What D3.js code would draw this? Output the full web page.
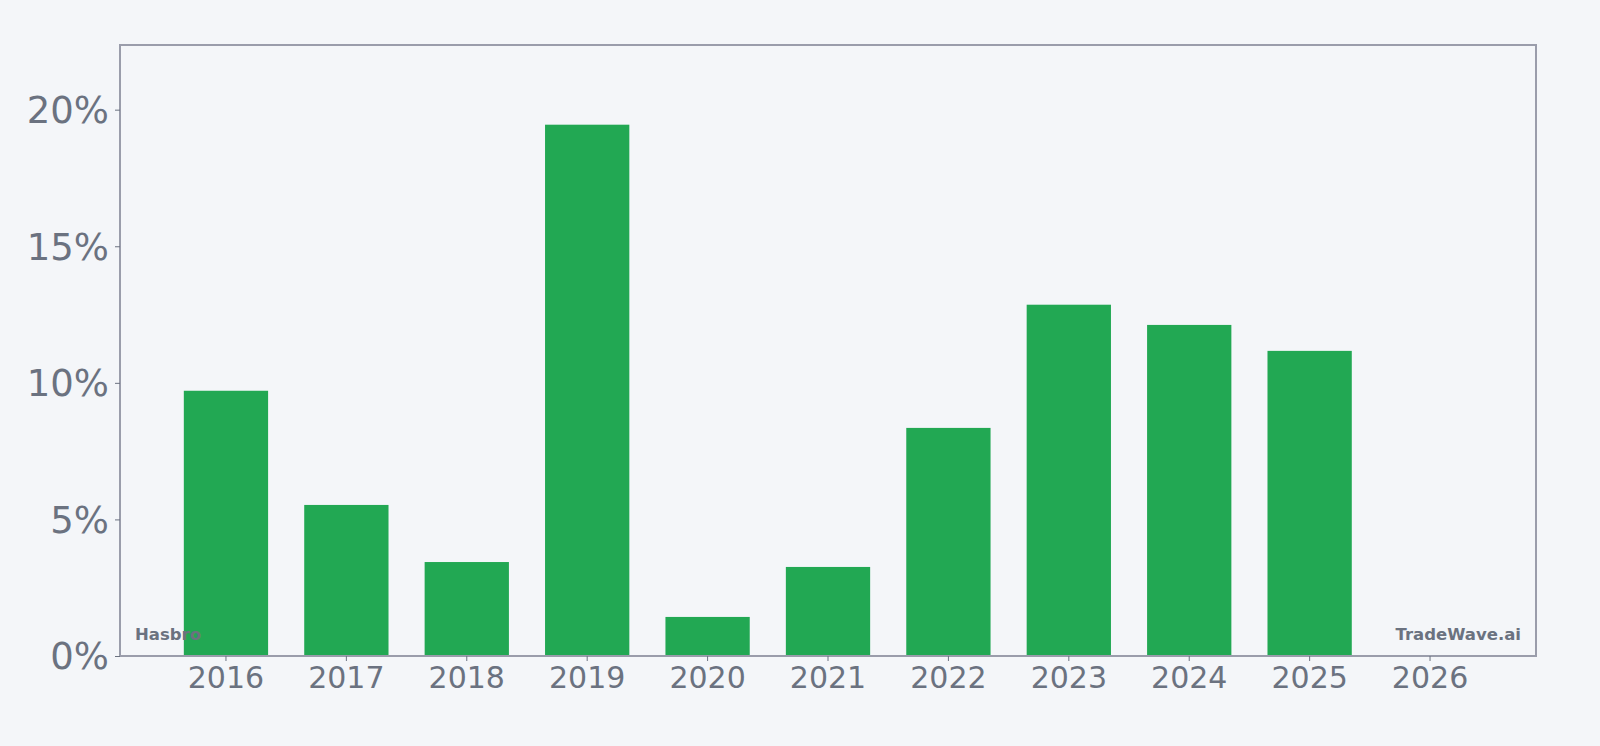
<!DOCTYPE html>
<html>
<head>
<meta charset="utf-8">
<script src="https://cdn.jsdelivr.net/npm/d3@7"></script>
<style>
	body {margin: 0; background: #f4f6f9;}
	svg text {font-family: "DejaVu Sans", sans-serif;}
</style>
</head>
<body>
<div id="chart"></div>
<script>
// yearly values, percent
var years = ["2016", "2017", "2018", "2019", "2020", "2021", "2022", "2023", "2024", "2025", "2026"];
var values = [9.71, 5.53, 3.44, 19.45, 1.43, 3.26, 8.35, 12.86, 12.12, 11.17, null];
var yTicks = [0, 5, 10, 15, 20];
var leftLabel = "Hasbro";
var rightLabel = "TradeWave.ai";

var width = 1600, height = 746;
var margin = {top: 45, right: 64, bottom: 90, left: 120};
var iw = width - margin.left - margin.right, ih = height - margin.top - margin.bottom;
var textCol = "#6b7280", lineCol = "#9a9dab", barCol = "#22a853";

var svg = d3.select("#chart").append("svg")
	.attr("width", width)
	.attr("height", height);

svg.append("rect")
	.attr("width", width)
	.attr("height", height)
	.attr("fill", "#f4f6f9");

var g = svg.append("g")
	.attr("transform", "translate(" + margin.left + "," + margin.top + ")");

var x = d3.scaleBand()
	.domain(years)
	.range([0, iw])
	.paddingInner(0.3)
	.paddingOuter(0.53);

var y = d3.scaleLinear()
	.domain([0, d3.max(values) * 1.15])
	.range([ih, 0]);

g.selectAll("rect.bar")
	.data(years.map(function(d, i){return {year: d, v: values[i]};}).filter(function(d){return d.v != null;}))
	.enter().append("rect")
	.attr("class", "bar")
	.attr("x", function(d){return x(d.year)})
	.attr("y", function(d){return y(d.v)})
	.attr("width", x.bandwidth())
	.attr("height", function(d){return ih - y(d.v)})
	.attr("fill", barCol);

// frame
g.append("rect")
	.attr("x", 0)
	.attr("y", 0)
	.attr("width", iw)
	.attr("height", ih)
	.attr("fill", "none")
	.attr("stroke", lineCol)
	.attr("stroke-width", 2);

var yAxis = g.append("g")
	.call(d3.axisLeft(y).tickValues(yTicks).tickSize(5).tickPadding(6)
		.tickFormat(function(d){return d + "%"}));
yAxis.select(".domain").remove();
yAxis.selectAll("line").attr("stroke", textCol);
yAxis.selectAll("text")
	.attr("fill", textCol)
	.style("font-size", "37px")
	.attr("dy", "0.35em");

var xAxis = g.append("g")
	.attr("transform", "translate(0," + ih + ")")
	.call(d3.axisBottom(x).tickSize(5).tickPadding(6));
xAxis.select(".domain").remove();
xAxis.selectAll("line").attr("stroke", textCol);
xAxis.selectAll("text")
	.attr("fill", textCol)
	.style("font-size", "30px");

g.append("text")
	.attr("x", 15)
	.attr("y", ih - 16)
	.attr("fill", textCol)
	.style("font-size", "16.5px")
	.style("font-weight", "bold")
	.text(leftLabel);

g.append("text")
	.attr("x", iw - 15)
	.attr("y", ih - 16)
	.attr("text-anchor", "end")
	.attr("fill", textCol)
	.style("font-size", "16.5px")
	.style("font-weight", "bold")
	.text(rightLabel);
</script>
</body>
</html>
